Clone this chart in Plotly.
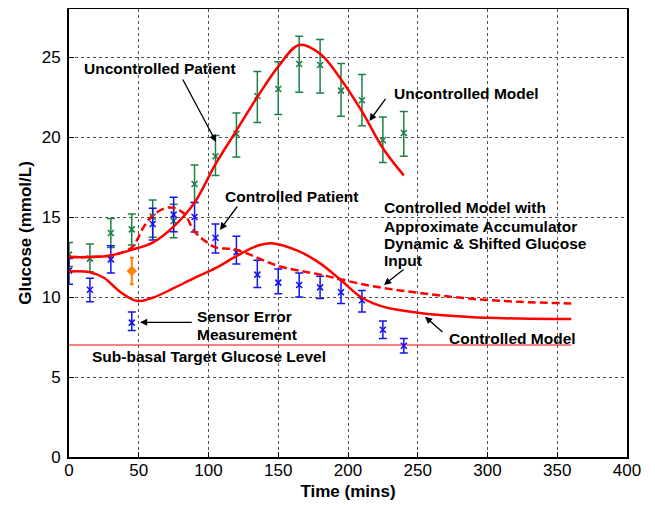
import plotly.graph_objects as go

# ---------------- data ----------------
t_pts = [0, 15, 30, 45, 60, 75, 90, 105, 120, 135, 150, 165, 180, 195, 210, 225, 240]

unc_pat = [12.65, 12.4, 14.0, 14.23, 15.02, 14.75, 17.06, 18.8, 20.2, 22.56, 23.0, 24.56, 24.5, 22.9, 22.3, 19.8, 20.25]
unc_hi = [13.4, 13.31, 14.9, 15.19, 16.06, 15.8, 18.25, 20.1, 21.5, 24.1, 24.7, 26.3, 26.1, 24.6, 23.9, 21.25, 21.6]
unc_lo = [11.9, 11.58, 13.1, 13.25, 13.73, 13.7, 15.9, 17.6, 18.75, 20.9, 21.4, 22.8, 22.75, 21.3, 20.7, 18.4, 18.8]

ctl_pat = [11.65, 10.45, 12.35, 8.4, 14.56, 15.15, 15.0, 13.7, 12.8, 11.4, 10.9, 10.75, 10.6, 10.3, 9.8, 7.95, 6.95]
ctl_hi = [12.4, 11.17, 13.2, 9.06, 15.55, 16.23, 15.9, 14.56, 13.8, 12.3, 11.75, 11.5, 11.3, 11.1, 10.4, 8.5, 7.4]
ctl_lo = [10.8, 9.7, 11.5, 7.9, 13.56, 14.08, 14.06, 12.75, 12.06, 10.6, 10.2, 10.0, 9.9, 9.6, 9.06, 7.4, 6.5]

sensor_t = [45]
sensor_val = [11.63]
sensor_hi = [12.45]
sensor_lo = [10.8]

unc_model_t = [0, 15, 30, 45, 60, 75, 90, 105, 120, 135, 150, 165, 180, 195, 210, 225, 240]
unc_model_y = [12.5, 12.5, 12.6, 12.95, 13.4, 14.4, 15.9, 18.3, 20.4, 22.5, 24.4, 25.75, 25.2, 23.6, 21.6, 19.3, 17.6]

ctl_model_t = [0, 15, 25, 37, 49, 60, 75, 90, 105, 120, 135, 145, 165, 180, 195, 210, 225, 250, 287, 323, 360]
ctl_model_y = [11.6, 11.55, 11.2, 10.3, 9.75, 9.95, 10.55, 11.2, 11.8, 12.55, 13.2, 13.36, 12.85, 12.1, 11.05, 9.95, 9.4, 9.02, 8.75, 8.65, 8.62]

acc_model_t = [0, 15, 30, 45, 53, 60, 72, 82, 90, 99, 105, 120, 150, 180, 216, 250, 287, 323, 360]
acc_model_y = [12.5, 12.5, 12.6, 13.1, 14.3, 15.1, 15.6, 15.25, 14.1, 13.4, 13.1, 12.95, 11.94, 11.4, 10.7, 10.27, 9.9, 9.7, 9.6]

target_t = [0, 360]
target_y = [7, 7]

x_ticks = [0, 50, 100, 150, 200, 250, 300, 350, 400]
y_ticks = [0, 5, 10, 15, 20, 25]

# ---------------- colours ----------------
GREEN = "rgb(30,128,70)"
BLUE = "rgb(20,20,235)"
ORANGE = "rgb(255,128,0)"
RED = "rgb(255,0,0)"
FONT = "Liberation Sans, Arial, sans-serif"


def up(v, hi):
    return [h - x for x, h in zip(v, hi)]


def down(v, lo):
    return [x - l for x, l in zip(v, lo)]


fig = go.Figure()

# target line
fig.add_trace(go.Scatter(x=target_t, y=target_y, mode="lines",
                         line=dict(color=RED, width=1), hoverinfo="skip"))

# patient data
fig.add_trace(go.Scatter(
    x=t_pts, y=unc_pat, mode="markers",
    marker=dict(symbol="x-thin", size=6, color=GREEN, line=dict(width=1.6, color=GREEN)),
    error_y=dict(type="data", symmetric=False, array=up(unc_pat, unc_hi),
                 arrayminus=down(unc_pat, unc_lo), color=GREEN, thickness=1.5, width=4)))

fig.add_trace(go.Scatter(
    x=t_pts, y=ctl_pat, mode="markers",
    marker=dict(symbol="x-thin", size=6, color=BLUE, line=dict(width=1.6, color=BLUE)),
    error_y=dict(type="data", symmetric=False, array=up(ctl_pat, ctl_hi),
                 arrayminus=down(ctl_pat, ctl_lo), color=BLUE, thickness=1.5, width=4)))

fig.add_trace(go.Scatter(
    x=sensor_t, y=sensor_val, mode="markers",
    marker=dict(symbol="diamond", size=8, color=ORANGE),
    error_y=dict(type="data", symmetric=False, array=up(sensor_val, sensor_hi),
                 arrayminus=down(sensor_val, sensor_lo), color=ORANGE, thickness=2, width=2)))

# models
fig.add_trace(go.Scatter(x=unc_model_t, y=unc_model_y, mode="lines",
                         line=dict(color=RED, width=2.5, shape="spline")))
fig.add_trace(go.Scatter(x=ctl_model_t, y=ctl_model_y, mode="lines",
                         line=dict(color=RED, width=2.5, shape="spline")))
fig.add_trace(go.Scatter(x=acc_model_t, y=acc_model_y, mode="lines",
                         line=dict(color=RED, width=2.5, shape="spline", dash="8px,4px")))

# ---------------- annotations ----------------
labels = [
    ("Uncontrolled Patient", 9.3, 24.31),
    ("Uncontrolled Model", 231.5, 22.69),
    ("Controlled Patient", 110.4, 16.31),
    ("Controlled Model with", 224.2, 15.61),
    ("Approximate Accumulator", 224.2, 14.43),
    ("Dynamic & Shifted Glucose", 224.2, 13.36),
    ("Input", 224.2, 12.27),
    ("Controlled Model", 270.8, 7.42),
    ("Sensor Error", 90.3, 8.8),
    ("Measurement", 90.3, 7.67),
    ("Sub-basal Target Glucose Level", 15.0, 6.31),
]
for txt, x, y in labels:
    fig.add_annotation(x=x, y=y, text=txt, showarrow=False, xanchor="left", yanchor="middle",
                       font=dict(family=FONT, size=15.5, color="black", weight="bold"))

arrows = [
    ((81.0, 23.69), (105.4, 19.69)),
    ((227.7, 22.48), (215.3, 21.0)),
    ((121.4, 15.75), (108.2, 14.19)),
    ((240.9, 11.79), (225.8, 10.75)),
    ((268.8, 7.73), (255.2, 8.77)),
    ((89.1, 8.42), (50.9, 8.42)),
]
for (tx, ty), (hx, hy) in arrows:
    fig.add_annotation(x=hx, y=hy, ax=tx, ay=ty, xref="x", yref="y", axref="x", ayref="y",
                       text="", showarrow=True, arrowhead=2, arrowsize=1.1, arrowwidth=1.3,
                       arrowcolor="black", standoff=0, startstandoff=0)

axis_common = dict(showline=True, linecolor="black", linewidth=2, mirror=True,
                   ticks="inside", ticklen=5, tickcolor="black", automargin=False,
                   showgrid=True, gridcolor="rgb(80,80,80)", gridwidth=1, griddash="dot",
                   zeroline=False, tickfont=dict(family=FONT, size=17, color="black"))

fig.update_xaxes(range=[0, 400], tickvals=x_ticks, ticklabelstandoff=-3,
                 title=dict(text="Time (mins)", standoff=6,
                            font=dict(family=FONT, size=17, color="black", weight="bold")),
                 **axis_common)
fig.update_yaxes(range=[0, 28], tickvals=y_ticks, ticklabelstandoff=3,
                 title=dict(text="Glucose (mmol/L)", standoff=6,
                            font=dict(family=FONT, size=17, color="black", weight="bold")),
                 **axis_common)

# page body adds an 8px offset, so the figure is sized to fit the window
fig.update_layout(width=647, height=497, showlegend=False,
                  margin=dict(l=61, r=28, t=1, b=48),
                  paper_bgcolor="white", plot_bgcolor="white",
                  font=dict(family=FONT))

fig.write_html("out.html")
